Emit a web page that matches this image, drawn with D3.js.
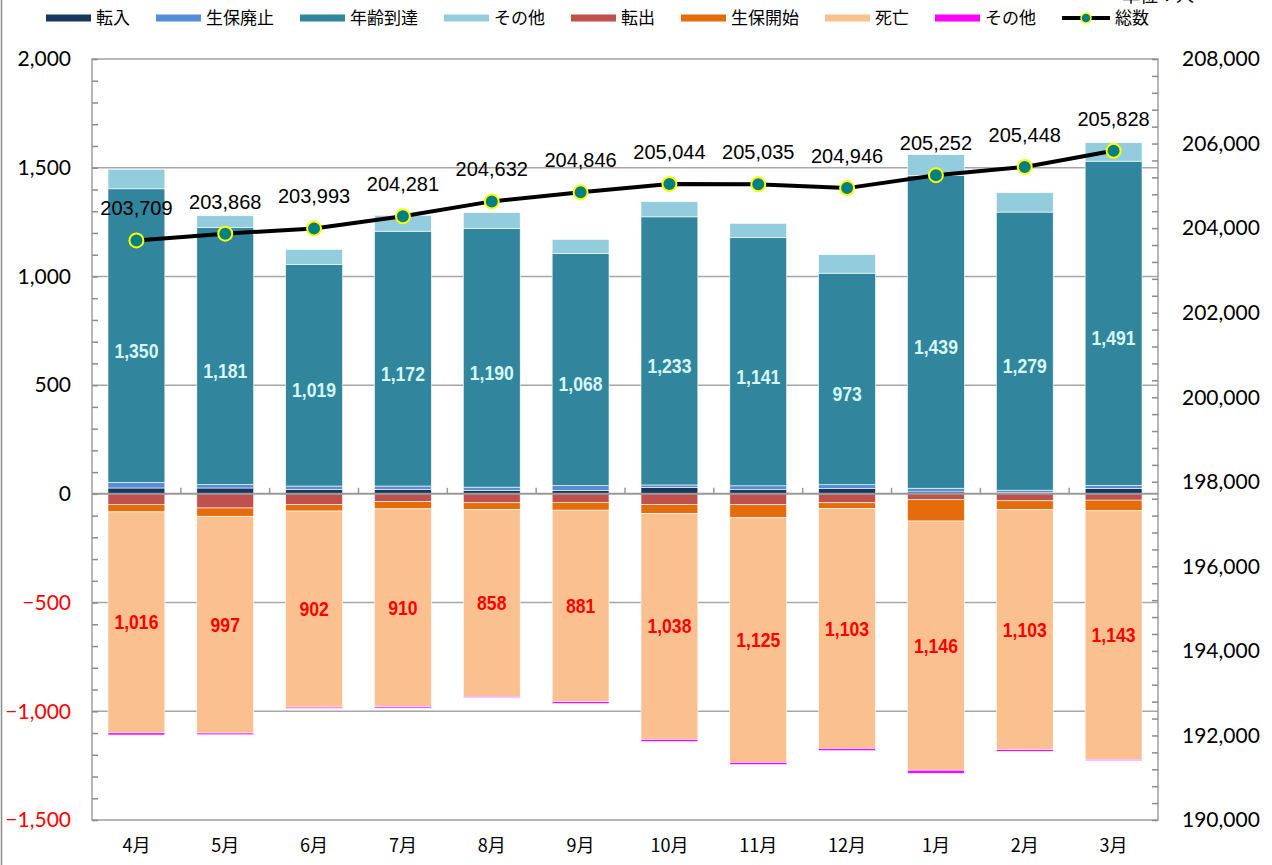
<!DOCTYPE html>
<html>
<head>
<meta charset="utf-8">
<script src="https://cdn.jsdelivr.net/npm/d3@7"></script>
<style>
  body { margin: 0; background: #fff; }
  svg { display: block; }
</style>
</head>
<body>
<div id="chart"></div>
<script>
const months = ["4月", "5月", "6月", "7月", "8月", "9月", "10月", "11月", "12月", "1月", "2月", "3月"];

// increases (stacked upward)
const tennyu   = [27, 27, 21, 21, 16, 16, 29, 19, 24, 9, 6, 24];
const haishi   = [26, 16, 15, 15, 15, 22, 12, 18, 18, 17, 11, 15];
const nenrei   = [1350, 1181, 1019, 1172, 1190, 1068, 1233, 1141, 973, 1439, 1279, 1491];
const sonotaUp = [90, 55, 69, 73, 73, 64, 70, 66, 85, 95, 89, 85];

// decreases (stacked downward)
const tenshutsu = [48, 65, 50, 36, 41, 39, 49, 50, 41, 27, 32, 29];
const kaishi    = [35, 38, 29, 33, 32, 36, 42, 60, 27, 98, 41, 49];
const shibou    = [1016, 997, 902, 910, 858, 881, 1038, 1125, 1103, 1146, 1103, 1143];
const sonotaDn  = [10, 8, 6, 6, 6, 8, 10, 10, 10, 14, 8, 6];

// total insured
const total = [203709, 203868, 203993, 204281, 204632, 204846, 205044, 205035, 204946, 205252, 205448, 205828];

const leftTicks = [2000, 1500, 1000, 500, 0, -500, -1000, -1500];
const rightTicks = [208000, 206000, 204000, 202000, 200000, 198000, 196000, 194000, 192000, 190000];

const series = [
  { key: "tennyu", name: "転入", color: "#17375E", values: tennyu, sign: 1 },
  { key: "haishi", name: "生保廃止", color: "#558ED5", values: haishi, sign: 1 },
  { key: "nenrei", name: "年齢到達", color: "#31859C", values: nenrei, sign: 1 },
  { key: "sonotaUp", name: "その他", color: "#93CDDD", values: sonotaUp, sign: 1 },
  { key: "tenshutsu", name: "転出", color: "#C0504D", values: tenshutsu, sign: -1 },
  { key: "kaishi", name: "生保開始", color: "#E46C0A", values: kaishi, sign: -1 },
  { key: "shibou", name: "死亡", color: "#FAC090", values: shibou, sign: -1 },
  { key: "sonotaDn", name: "その他", color: "#FF00FF", values: sonotaDn, sign: -1 }
];

const W = 1272, H = 865;
const plot = { left: 92, right: 1158, top: 59, bottom: 820 };
const numFont = "Lato, 'Liberation Sans', sans-serif";
const jpFont = "'Noto Sans CJK JP', sans-serif";
const fmt = d3.format(",");

const table = months.map((m, i) => {
  const row = { month: m };
  series.forEach(s => row[s.key] = s.sign * s.values[i]);
  return row;
});

const stacked = d3.stack()
  .keys(series.map(s => s.key))
  .offset(d3.stackOffsetDiverging)(table);

const x = d3.scaleBand()
  .domain(months)
  .range([plot.left, plot.right])
  .paddingInner(0.36)
  .paddingOuter(0.18);
const y = d3.scaleLinear().domain([-1500, 2000]).range([plot.bottom, plot.top]);
const yR = d3.scaleLinear().domain([190000, 208000]).range([plot.bottom, plot.top]);

const svg = d3.select("#chart").append("svg")
  .attr("width", W)
  .attr("height", H);

// chart border (left edge visible)
svg.append("line")
  .attr("x1", 1.5).attr("x2", 1.5).attr("y1", 0).attr("y2", H)
  .attr("stroke", "#8c8c8c").attr("stroke-width", 1.5);

// gridlines
svg.append("g")
  .selectAll("line")
  .data(leftTicks.filter(t => t !== 0 && t !== -1500 && t !== 2000))
  .join("line")
  .attr("x1", plot.left).attr("x2", plot.right)
  .attr("y1", d => y(d)).attr("y2", d => y(d))
  .attr("stroke", "#a6a6a6").attr("stroke-width", 1.5);

// plot border
svg.append("rect")
  .attr("x", plot.left).attr("y", plot.top)
  .attr("width", plot.right - plot.left).attr("height", plot.bottom - plot.top)
  .attr("fill", "none").attr("stroke", "#a0a0a0").attr("stroke-width", 1.5);

// bars
const colorOf = Object.fromEntries(series.map(s => [s.key, s.color]));
svg.append("g")
  .selectAll("g")
  .data(stacked)
  .join("g")
  .attr("fill", d => colorOf[d.key])
  .selectAll("rect")
  .data(d => d)
  .join("rect")
  .attr("x", d => x(d.data.month))
  .attr("y", d => y(Math.max(d[0], d[1])))
  .attr("width", x.bandwidth())
  .attr("height", d => Math.abs(y(d[0]) - y(d[1])))
  .attr("stroke", "#fff")
  .attr("stroke-width", 0.6);

// left axis ticks (inward, every 100)
svg.append("g")
  .attr("transform", `translate(${plot.left},0)`)
  .call(d3.axisRight(y).tickValues(d3.range(-1500, 2001, 100)).tickSize(6).tickFormat(""))
  .call(g => g.select(".domain").remove())
  .call(g => g.selectAll(".tick line").attr("stroke", "#8c8c8c").attr("stroke-width", 1.5));

// left tick labels
svg.append("g")
  .selectAll("text")
  .data(leftTicks)
  .join("text")
  .attr("x", 71)
  .attr("y", d => y(d))
  .attr("dy", "0.35em")
  .attr("text-anchor", "end")
  .attr("font-family", numFont)
  .attr("font-size", 21)
  .attr("fill", d => d < 0 ? "#FF0000" : "#000")
  .text(d => fmt(d));

// right axis ticks (inward, every 400)
svg.append("g")
  .attr("transform", `translate(${plot.right},0)`)
  .call(d3.axisLeft(yR).tickValues(d3.range(190000, 208001, 400)).tickSize(6).tickFormat(""))
  .call(g => g.select(".domain").remove())
  .call(g => g.selectAll(".tick line").attr("stroke", "#8c8c8c").attr("stroke-width", 1.5));

svg.append("g")
  .selectAll("text")
  .data(rightTicks)
  .join("text")
  .attr("x", 1182)
  .attr("y", d => yR(d))
  .attr("dy", "0.35em")
  .attr("font-family", numFont)
  .attr("font-size", 21)
  .attr("fill", "#000")
  .text(d => fmt(d));

// zero axis with category boundary ticks
const step = x.step();
svg.append("line")
  .attr("x1", plot.left).attr("x2", plot.right)
  .attr("y1", y(0)).attr("y2", y(0))
  .attr("stroke", "#999").attr("stroke-width", 2);
svg.append("g")
  .selectAll("line")
  .data(d3.range(1, months.length))
  .join("line")
  .attr("x1", i => plot.left + i * step).attr("x2", i => plot.left + i * step)
  .attr("y1", y(0)).attr("y2", y(0) - 6)
  .attr("stroke", "#999").attr("stroke-width", 1.5);

// month labels
svg.append("g")
  .selectAll("text")
  .data(months)
  .join("text")
  .attr("x", d => x(d) + x.bandwidth() / 2)
  .attr("y", 852)
  .attr("text-anchor", "middle")
  .attr("font-family", jpFont)
  .attr("font-size", 18)
  .attr("fill", "#000")
  .text(d => d);

// segment labels: 年齢到達 and 死亡 (condensed bold)
const segLabel = (layer, color, shift) => svg.append("g")
  .selectAll("text")
  .data(layer)
  .join("text")
  .attr("transform", d => `translate(${x(d.data.month) + x.bandwidth() / 2},${y((d[0] + d[1]) / 2) + shift}) scale(0.88,1)`)
  .attr("dy", "0.35em")
  .attr("text-anchor", "middle")
  .attr("font-family", "'Liberation Sans', sans-serif")
  .attr("font-weight", "bold")
  .attr("font-size", 20)
  .attr("fill", color)
  .text(d => fmt(Math.abs(d[1] - d[0])));

segLabel(stacked.find(s => s.key === "nenrei"), "#D5F7F7", 15);
segLabel(stacked.find(s => s.key === "shibou"), "#FF0000", 0);

// total line
const cx = (d, i) => x(months[i]) + x.bandwidth() / 2;
svg.append("path")
  .datum(total)
  .attr("fill", "none")
  .attr("stroke", "#000")
  .attr("stroke-width", 4)
  .attr("d", d3.line().x(cx).y(d => yR(d)));

svg.append("g")
  .selectAll("circle")
  .data(total)
  .join("circle")
  .attr("cx", cx)
  .attr("cy", d => yR(d))
  .attr("r", 7)
  .attr("fill", "#008080")
  .attr("stroke", "#FFFF00")
  .attr("stroke-width", 2);

svg.append("g")
  .selectAll("text")
  .data(total)
  .join("text")
  .attr("x", cx)
  .attr("y", d => yR(d) - 32)
  .attr("dy", "0.35em")
  .attr("text-anchor", "middle")
  .attr("font-family", "'Liberation Sans', sans-serif")
  .attr("font-size", 20)
  .attr("fill", "#000")
  .text(d => fmt(d));

// unit label (partly clipped at top, as in the source)
svg.append("text")
  .attr("x", 1122)
  .attr("y", 2)
  .attr("font-family", jpFont)
  .attr("font-size", 18)
  .attr("fill", "#000")
  .text("単位：人");

// legend
const legend = svg.append("g").attr("font-family", jpFont).attr("font-size", 17);
let lx = 46;
const ly = 18;
series.concat([{ key: "total", name: "総数", line: true }]).forEach(s => {
  const item = legend.append("g").attr("transform", `translate(${lx},${ly})`);
  if (s.line) {
    item.append("line").attr("x1", 0).attr("x2", 48).attr("y1", 0).attr("y2", 0)
      .attr("stroke", "#000").attr("stroke-width", 4);
    item.append("circle").attr("cx", 24).attr("cy", 0).attr("r", 5)
      .attr("fill", "#008080").attr("stroke", "#FFFF00").attr("stroke-width", 1.5);
  } else {
    item.append("rect").attr("x", 0).attr("y", -3.5).attr("width", 45).attr("height", 7)
      .attr("fill", s.color);
  }
  const tx = s.line ? 53 : 50;
  const t = item.append("text")
    .attr("x", tx)
    .attr("y", 0)
    .attr("dy", "0.35em")
    .attr("fill", "#000")
    .text(s.name);
  lx += tx + t.node().getComputedTextLength() + 26;
});
</script>
</body>
</html>
